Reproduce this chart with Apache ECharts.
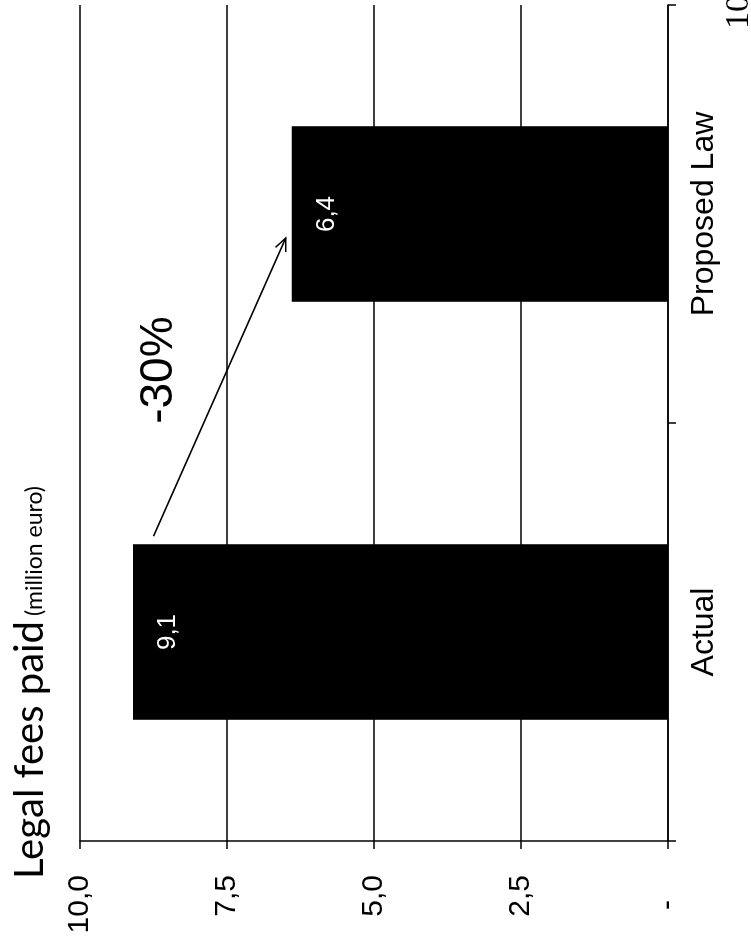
<!DOCTYPE html>
<html>
<head>
<meta charset="utf-8">
<script src="https://cdn.jsdelivr.net/npm/echarts@6/dist/echarts.min.js"></script>
<style>
    html, body { margin: 0; padding: 0; background: #fff; overflow: hidden; }
    /* the scanned page is turned a quarter turn, so the chart is drawn upright and rotated */
    #main {
        position: absolute; left: 0; top: 0;
        width: 946px; height: 751px;
        transform-origin: 0 0;
        transform: translate(0, 946px) rotate(-90deg);
    }
</style>
</head>
<body>
<div id="main"></div>
<script>
let categories = ['Actual', 'Proposed Law'];
let feesPaid = [9.1, 6.4];
let axisMin = 0;
let axisMax = 10;
let axisStep = 2.5;
let changeText = '-30%';
let arrowFrom = 8.75;   // value where the arrow starts (next to Actual)
let arrowTo = 6.5;      // value where the arrow ends (above Proposed Law)

function comma(v){
    return v.toFixed(1).replace('.', ',');
}

let myChart = echarts.init(document.getElementById('main'));
let font = 'Liberation Sans, Arial, sans-serif';

let option = {
    animation: false,
    backgroundColor: '#fff',
    title: [{
        text: '{a|Legal fees paid} {b|(million euro)}',
        left: 62,
        top: 5,
        textStyle: {
            fontWeight: 'normal',
            rich: {
                a: { fontFamily: 'Lato', fontSize: 40, fontWeight: 'normal', color: '#000' },
                b: { fontFamily: 'Lato', fontSize: 23, fontWeight: 'normal', color: '#000', padding: [10, 0, 0, 0] }
            }
        }
    }],
    grid: { left: 105, right: 5, top: 80, bottom: 83 },
    xAxis: {
        type: 'category',
        data: categories,
        axisLine: { lineStyle: { color: '#000', width: 1.5 } },
        axisTick: { show: true, length: 8, lineStyle: { color: '#000', width: 1.5 } },
        axisLabel: { color: '#000', fontSize: 32, fontFamily: font, margin: 20 }
    },
    yAxis: {
        type: 'value',
        min: axisMin,
        max: axisMax,
        interval: axisStep,
        axisLine: { show: true, lineStyle: { color: '#000', width: 1.5 } },
        axisTick: { show: true, length: 8, lineStyle: { color: '#000', width: 1.5 } },
        splitLine: { lineStyle: { color: '#000', width: 1.5 } },
        axisLabel: {
            color: '#000', fontSize: 30, fontFamily: font, margin: 34,
            formatter: function(v){
                // accounting style zero: a dash set in from the right
                if(v === 0) return '-\u00a0\u00a0\u00a0';
                return comma(v);
            }
        }
    },
    series: [{
        type: 'bar',
        data: feesPaid,
        barWidth: '42%',
        itemStyle: { color: '#000' },
        label: {
            show: true,
            position: 'insideTop',
            distance: 22,
            color: '#fff',
            fontSize: 26,
            fontFamily: font,
            formatter: function(p){ return comma(p.value); }
        }
    }]
};
myChart.setOption(option);

// arrow + percentage annotation, placed from the axes
let p0 = myChart.convertToPixel({ xAxisIndex: 0, yAxisIndex: 0 }, [0, arrowFrom]);
let p1 = myChart.convertToPixel({ xAxisIndex: 0, yAxisIndex: 0 }, [1, arrowTo]);
let band = myChart.convertToPixel({ xAxisIndex: 0 }, 1) - myChart.convertToPixel({ xAxisIndex: 0 }, 0);
let half = band * 0.42 / 2;
let start = [p0[0] + half + 8, p0[1]];
let end = [p1[0] - 24, p1[1]];
let ang = Math.atan2(end[1] - start[1], end[0] - start[0]);
let hl = 14, spread = 0.42;
let head = [
    [end[0] - hl * Math.cos(ang - spread), end[1] - hl * Math.sin(ang - spread)],
    end,
    [end[0] - hl * Math.cos(ang + spread), end[1] - hl * Math.sin(ang + spread)]
];

myChart.setOption({
    graphic: [
        {
            type: 'line',
            shape: { x1: start[0], y1: start[1], x2: end[0], y2: end[1] },
            style: { stroke: '#000', lineWidth: 1.5 }
        },
        {
            type: 'polyline',
            shape: { points: head },
            style: { stroke: '#000', lineWidth: 1.5, fill: null }
        },
        {
            type: 'text',
            x: (start[0] + end[0]) / 2 + 17,
            y: (start[1] + end[1]) / 2 - 60,
            style: {
                text: changeText,
                fontSize: 46,
                fontFamily: font,
                fill: '#000',
                align: 'center',
                verticalAlign: 'middle'
            }
        },
        {
            type: 'text',
            x: 917,
            y: 722,
            style: { text: '10', fontSize: 34, fontFamily: 'Liberation Serif, serif', fill: '#000' }
        }
    ]
});

window.onresize = function(){
    myChart.resize();
}
</script>
</body>
</html>
